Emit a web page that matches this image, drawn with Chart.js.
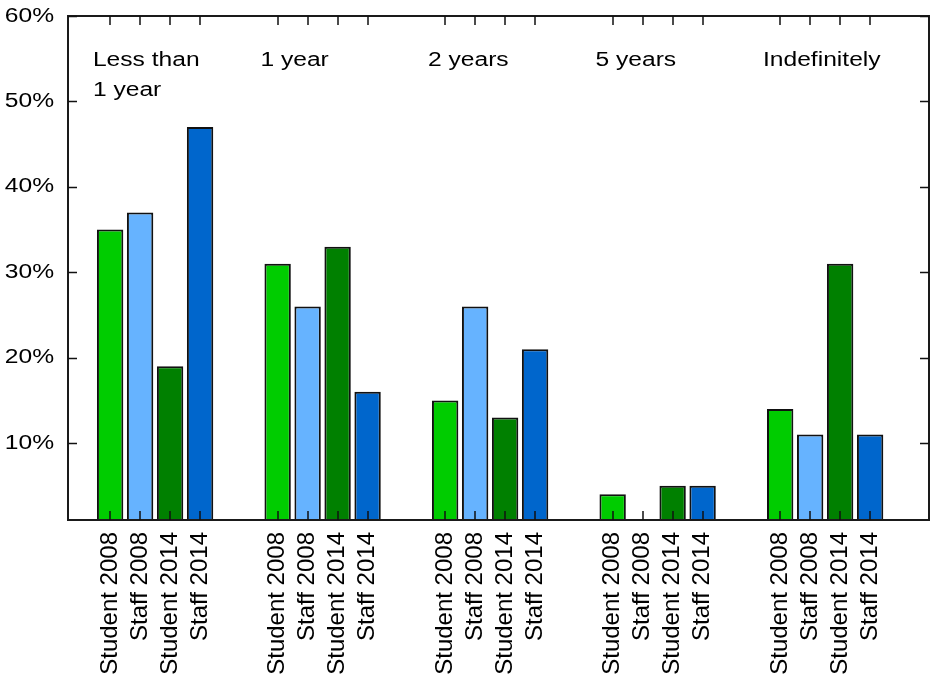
<!DOCTYPE html>
<html>
<head>
<meta charset="utf-8">
<script src="https://cdn.jsdelivr.net/npm/chart.js@4/dist/chart.umd.min.js"></script>
<style>
  html, body { margin: 0; padding: 0; background: #fff; }
  #wrap { width: 933px; height: 687px; position: relative; }
</style>
</head>
<body>
<div id="wrap"><canvas id="myChart"></canvas></div>
<script>
// group titles (one entry per line) and series names
const groups = [['Less than', '1 year'], ['1 year'], ['2 years'], ['5 years'], ['Indefinitely']];
const series = ['Student 2008', 'Staff 2008', 'Student 2014', 'Staff 2014'];
const colors = ['#00cc00', '#66b3ff', '#008000', '#0066cc'];

// percent values
const student2008 = [35, 31, 15, 4, 14];
const staff2008 = [37, 26, 26, 0, 11];
const student2014 = [19, 33, 13, 5, 31];
const staff2014 = [47, 16, 21, 5, 11];
const yTicks = [10, 20, 30, 40, 50, 60];

const values = [student2008, staff2008, student2014, staff2014];

// draws the frame, inner ticks and all the text
const decorPlugin = {
    id: 'decor',
    afterDraw(chart) {
        const ctx = chart.ctx;
        const area = chart.chartArea;
        const y = chart.scales.y;
        ctx.save();

        // frame
        ctx.strokeStyle = '#1a1a1a';
        ctx.lineWidth = 2;
        ctx.strokeRect(area.left, area.top, area.right - area.left, area.bottom - area.top);

        // inner ticks at every bar, top and bottom
        ctx.fillStyle = '#111';
        chart.data.datasets.forEach((ds, di) => {
            chart.getDatasetMeta(di).data.forEach(bar => {
                const bx = Math.round(bar.x);
                ctx.fillRect(bx - 0.75, area.top, 1.5, 9);
                ctx.fillRect(bx - 0.75, area.bottom - 9, 1.5, 9);
            });
        });
        // y ticks on both sides
        ctx.strokeStyle = '#111';
        ctx.lineWidth = 1.5;
        ctx.beginPath();
        yTicks.forEach(t => {
            const py = Math.round(y.getPixelForValue(t)) + 0.5;
            ctx.moveTo(area.left, py);
            ctx.lineTo(area.left + 9, py);
            ctx.moveTo(area.right, py);
            ctx.lineTo(area.right - 9, py);
        });
        ctx.stroke();

        // y labels
        ctx.fillStyle = '#000';
        ctx.font = '20px "Liberation Sans", Arial, sans-serif';
        ctx.textAlign = 'right';
        ctx.textBaseline = 'middle';
        yTicks.forEach(t => {
            ctx.save();
            ctx.translate(area.left - 14, y.getPixelForValue(t));
            ctx.scale(1.23, 1);
            ctx.fillText(t + '%', 0, 0);
            ctx.restore();
        });

        // rotated labels under every bar
        chart.data.datasets.forEach((ds, di) => {
            chart.getDatasetMeta(di).data.forEach(bar => {
                ctx.save();
                ctx.translate(bar.x, area.bottom + 12);
                ctx.rotate(-Math.PI / 2);
                ctx.font = '24px "Liberation Sans", Arial, sans-serif';
                ctx.textAlign = 'right';
                ctx.textBaseline = 'middle';
                ctx.fillText(ds.label, 0, 0);
                ctx.restore();
            });
        });

        // group titles, left aligned near the first bar of each group
        const first = chart.getDatasetMeta(0);
        ctx.textAlign = 'left';
        ctx.textBaseline = 'alphabetic';
        groups.forEach((lines, gi) => {
            const bar = first.data[gi];
            const px = bar.x - bar.width / 2 - 4;
            lines.forEach((line, li) => {
                ctx.save();
                ctx.translate(px, area.top + 50 + li * 30);
                ctx.scale(1.23, 1);
                ctx.fillText(line, 0, 0);
                ctx.restore();
            });
        });
        ctx.restore();
    }
};

const ctx = document.getElementById('myChart').getContext('2d');
const myChart = new Chart(ctx, {
    type: 'bar',
    data: {
        datasets: series.map((name, si) => ({
            label: name,
            data: values[si].map((v, gi) => ({ x: gi, y: v })),
            backgroundColor: colors[si],
            borderColor: '#111',
            borderWidth: 2,
            borderSkipped: 'start',
            clip: 0
        }))
    },
    options: {
        responsive: true,
        maintainAspectRatio: false,
        animation: false,
        categoryPercentage: 0.716,
        barPercentage: 0.88,
        layout: {
            padding: { left: 68, right: 4, top: 16, bottom: 167 }
        },
        plugins: {
            legend: { display: false },
            tooltip: { enabled: false }
        },
        scales: {
            x: {
                type: 'linear',
                display: false,
                offset: false,
                min: -0.52,
                max: 4.62,
                afterBuildTicks: axis => {
                    axis.ticks = groups.map((g, i) => ({ value: i }));
                }
            },
            y: {
                display: false,
                min: 1,
                max: 60,
                afterBuildTicks: axis => {
                    axis.ticks = yTicks.map(v => ({ value: v }));
                }
            }
        }
    },
    plugins: [decorPlugin]
});
</script>
</body>
</html>
